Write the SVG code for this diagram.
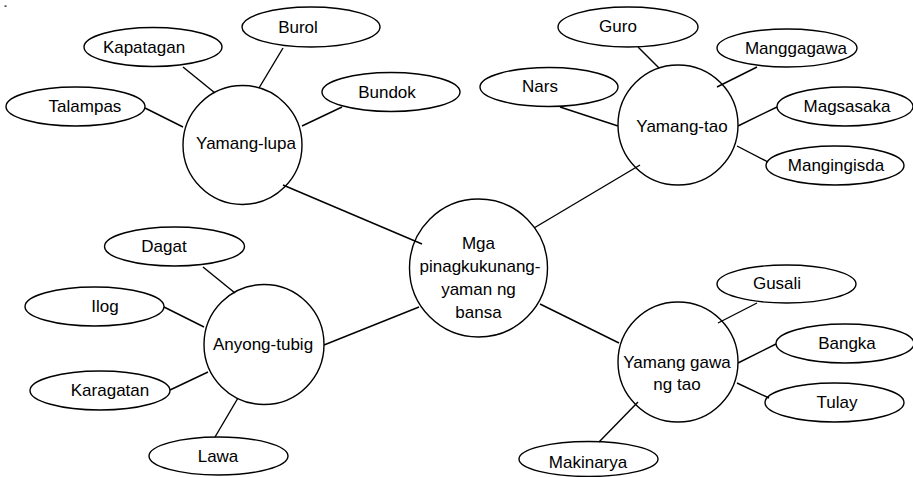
<svg xmlns="http://www.w3.org/2000/svg" width="913" height="477" viewBox="0 0 913 477">
<style>
.n{fill:#fff;stroke:#000;stroke-width:1.4}
.t{font-family:"Liberation Sans",Arial,sans-serif;font-size:17px;fill:#000;text-anchor:middle}
.c line{stroke:#000;stroke-width:1.4}
</style>
<rect width="913" height="477" fill="#fff"/>
<rect x="4.5" y="5.5" width="2" height="1.2" fill="#000"/>
<g id="nodes">
<g id="center"><circle class="n" cx="478.5" cy="268" r="69"/>
<text class="t" x="478.5" y="249">Mga</text><text class="t" x="480" y="272">pinagkukunang-</text><text class="t" x="478.5" y="295">yaman ng</text><text class="t" x="478.5" y="318">bansa</text></g>
<g id="yamang-lupa"><circle class="n" cx="242.5" cy="145" r="59.5"/><text class="t" x="246" y="149">Yamang-lupa</text></g>
<g id="yamang-tao"><circle class="n" cx="678" cy="125" r="60"/><text class="t" x="682" y="132">Yamang-tao</text></g>
<g id="yamang-gawa"><circle class="n" cx="678" cy="362" r="60"/><text class="t" x="677" y="368">Yamang gawa</text><text class="t" x="677" y="390">ng tao</text></g>
<g id="anyong-tubig"><circle class="n" cx="264" cy="344.5" r="60"/><text class="t" x="263" y="350">Anyong-tubig</text></g>
<g id="kapatagan"><ellipse class="n" cx="153" cy="47" rx="69" ry="19.5"/><text class="t" x="144" y="53">Kapatagan</text></g>
<g id="talampas"><ellipse class="n" cx="75.5" cy="106.5" rx="69.5" ry="19.5"/><text class="t" x="85" y="112">Talampas</text></g>
<g id="burol"><ellipse class="n" cx="311" cy="27" rx="69" ry="20"/><text class="t" x="298" y="33">Burol</text></g>
<g id="bundok"><ellipse class="n" cx="391" cy="92" rx="69" ry="19.5"/><text class="t" x="387" y="98">Bundok</text></g>
<g id="guro"><ellipse class="n" cx="628" cy="27" rx="70" ry="20"/><text class="t" x="618" y="32">Guro</text></g>
<g id="nars"><ellipse class="n" cx="549" cy="87" rx="69" ry="19.5"/><text class="t" x="540" y="92">Nars</text></g>
<g id="manggagawa"><ellipse class="n" cx="787" cy="48" rx="70" ry="19"/><text class="t" x="796" y="54">Manggagawa</text></g>
<g id="magsasaka"><ellipse class="n" cx="845" cy="106.5" rx="68" ry="19.5"/><text class="t" x="847" y="112">Magsasaka</text></g>
<g id="mangingisda"><ellipse class="n" cx="835" cy="165.5" rx="69" ry="19.5"/><text class="t" x="836" y="171">Mangingisda</text></g>
<g id="gusali"><ellipse class="n" cx="786.5" cy="284" rx="69.5" ry="19"/><text class="t" x="777" y="289">Gusali</text></g>
<g id="bangka"><ellipse class="n" cx="845" cy="343.5" rx="69" ry="19.5"/><text class="t" x="847" y="349">Bangka</text></g>
<g id="tulay"><ellipse class="n" cx="834.5" cy="402.5" rx="69.5" ry="19.5"/><text class="t" x="837" y="408">Tulay</text></g>
<g id="makinarya"><ellipse class="n" cx="588.5" cy="459" rx="69.5" ry="17.5"/><text class="t" x="588" y="468">Makinarya</text></g>
<g id="dagat"><ellipse class="n" cx="174.5" cy="246.5" rx="70" ry="19.5"/><text class="t" x="164" y="252">Dagat</text></g>
<g id="ilog"><ellipse class="n" cx="94.5" cy="306.5" rx="69.5" ry="19.5"/><text class="t" x="105" y="312">Ilog</text></g>
<g id="karagatan"><ellipse class="n" cx="100" cy="390.5" rx="70" ry="19.5"/><text class="t" x="110" y="396">Karagatan</text></g>
<g id="lawa"><ellipse class="n" cx="218.5" cy="456" rx="69.5" ry="19"/><text class="t" x="218" y="462">Lawa</text></g>
</g>
<g id="connectors" class="c">
<line x1="183" y1="67" x2="215" y2="93"/>
<line x1="145" y1="108" x2="183" y2="127"/>
<line x1="283" y1="48" x2="259" y2="88"/>
<line x1="342" y1="107" x2="302" y2="126"/>
<line x1="283" y1="185" x2="422" y2="244"/>
<line x1="638" y1="47" x2="659" y2="68"/>
<line x1="560" y1="107" x2="618" y2="126"/>
<line x1="757" y1="67" x2="717" y2="87"/>
<line x1="777" y1="107" x2="738" y2="126"/>
<line x1="737" y1="146" x2="768" y2="162"/>
<line x1="640" y1="165" x2="534" y2="228"/>
<line x1="540" y1="304" x2="619" y2="343"/>
<line x1="757" y1="303" x2="718" y2="323"/>
<line x1="776" y1="344" x2="738" y2="363"/>
<line x1="737" y1="383" x2="769" y2="398"/>
<line x1="599" y1="442" x2="638" y2="402"/>
<line x1="203" y1="267" x2="235" y2="293"/>
<line x1="164" y1="307" x2="204" y2="327"/>
<line x1="170" y1="390" x2="208" y2="372"/>
<line x1="215" y1="437" x2="238" y2="398"/>
<line x1="324" y1="345" x2="419" y2="307"/>
</g>
</svg>
